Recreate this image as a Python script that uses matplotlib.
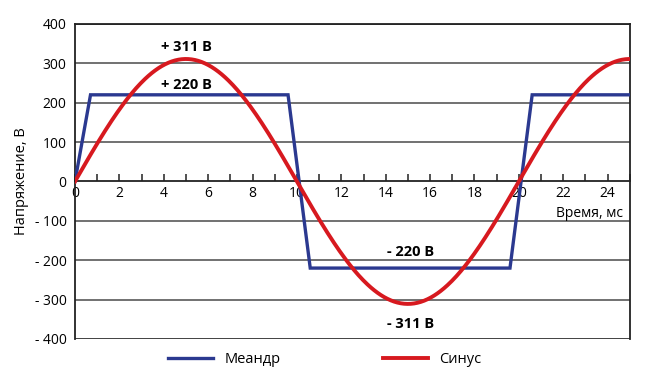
import numpy as np
import matplotlib
matplotlib.use("Agg")
import matplotlib.pyplot as plt
from matplotlib.ticker import MultipleLocator, FuncFormatter

plt.rcParams['font.family'] = ['Open Sans', 'DejaVu Sans']

# square wave (meander) corners, ms / V
meander_t = [0, 0.7, 9.6, 10.6, 19.6, 20.6, 25]
meander_v = [0, 220, 220, -220, -220, 220, 220]

# sine: 220 V rms -> 311 V peak, 50 Hz
sine_amp = 311
sine_period = 20.0
sine_t = np.linspace(0, 25, 500)
sine_v = sine_amp * np.sin(2 * np.pi * sine_t / sine_period)

y_ticks = [-400, -300, -200, -100, 0, 100, 200, 300, 400]
x_ticks = [0, 2, 4, 6, 8, 10, 12, 14, 16, 18, 20, 22, 24]

# annotation texts and where they sit
labels = ["+ 311 В", "+ 220 В", "- 220 В", "- 311 В"]
label_t = [5.0, 5.0, 15.1, 15.1]
label_v = [342, 245, -178, -362]

blue = "#2b3990"
red = "#d7191f"

fig = plt.figure(figsize=(6.52, 3.8), dpi=100)
ax = fig.add_axes([0.115, 0.108, 0.851, 0.829])

for y in y_ticks:
    if y == 0:
        continue
    c = "#333333" if abs(y) == 400 else "#666666"
    ax.axhline(y, color=c, lw=1.3, zorder=1)

ax.plot(meander_t, meander_v, color=blue, lw=2.4, label="Меандр", zorder=3,
        solid_joinstyle="miter")
ax.plot(sine_t, sine_v, color=red, lw=2.8, label="Синус", zorder=4)

ax.set_xlim(0, 25)
ax.set_ylim(-400, 400)

ax.spines['bottom'].set_position(('data', 0))
ax.spines['bottom'].set_zorder(2)
for s in ax.spines.values():
    s.set_color("#222222")
    s.set_linewidth(1.3)

ax.set_xticks(x_ticks)
ax.xaxis.set_minor_locator(MultipleLocator(1))
ax.tick_params(axis='x', which='both', direction='in', length=5, width=1.1,
               labelsize=10, pad=3, colors="#222222", labelcolor="black")
ax.set_yticks(y_ticks)
ax.yaxis.set_major_formatter(FuncFormatter(
    lambda v, p: f"- {abs(int(v))}" if v < 0 else f"{int(v)}"))
ax.tick_params(axis='y', length=0, labelsize=10, pad=6)

ax.set_ylabel("Напряжение, В", fontsize=10.5, labelpad=4)
ax.text(24.7, -82, "Время, мс", ha='right', va='center', fontsize=10)

for s, t, v in zip(labels, label_t, label_v):
    ax.text(t, v, s, ha='center', va='center', fontsize=10.5, fontweight='bold')

fig.legend(loc='lower center', bbox_to_anchor=(0.498, 0.0), ncol=2,
           frameon=False, fontsize=10.5, handlelength=3.1, columnspacing=7.0,
           handletextpad=0.8)

fig.savefig("out.png", dpi=100)
